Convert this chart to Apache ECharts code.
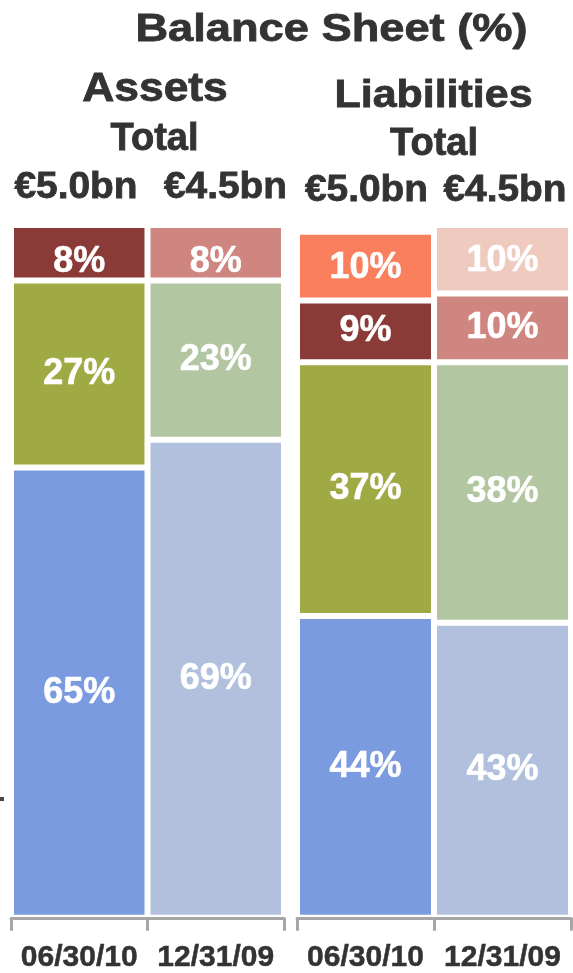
<!DOCTYPE html>
<html>
<head>
<meta charset="utf-8">
<title>Balance Sheet (%)</title>
<script src="https://cdn.jsdelivr.net/npm/echarts@6/dist/echarts.min.js"></script>
<style>
  html, body { margin: 0; padding: 0; background: #ffffff; }
  #chart { width: 573px; height: 973px; }
</style>
</head>
<body>
<div id="chart"></div>
<script>
// Reporting dates (one stacked column each)
const categories = ['06/30/10', '12/31/09'];
// Balance sheet totals per date
const totals = ['€5.0bn', '€4.5bn'];

// Assets composition (%), bottom to top
const assetsBottom = [65, 69];
const assetsMiddle = [27, 23];
const assetsTop = [8, 8];

// Liabilities composition (%), bottom to top
const liabBottom = [44, 43];
const liabMiddle = [37, 38];
const liabUpper = [9, 10];
const liabTop = [10, 10];

const FONT = '"Liberation Sans", Arial, Helvetica, sans-serif';
const INK = '#333333';

// Per-date colours: current date saturated, prior date pale
const palette = {
  bottom: ['#7b9be1', '#b1c0dc'],
  middle: ['#a0aa44', '#b2c6a2'],
  upper: ['#8a3a37', '#cf8680'],
  top: ['#f97f5d', '#efcbbf']
};

function items(values, colors) {
  return values.map((v, i) => ({ value: v, itemStyle: { color: colors[i] } }));
}

function barSeries(name, xi, values, colors, labelOffset) {
  return {
    name: name,
    type: 'bar',
    xAxisIndex: xi,
    yAxisIndex: xi,
    stack: 'g' + xi,
    barCategoryGap: '0%',
    barGap: '0%',
    data: items(values, colors),
    itemStyle: { borderColor: '#ffffff', borderWidth: 3 },
    label: {
      show: true,
      position: 'inside',
      formatter: '{c}%',
      color: '#ffffff',
      fontFamily: FONT,
      fontWeight: 'bold',
      fontSize: 36,
      textBorderColor: '#ffffff',
      textBorderWidth: 0.6,
      offset: labelOffset || [0, 0]
    },
    emphasis: { disabled: true }
  };
}

function categoryAxis(gi) {
  return {
    type: 'category',
    gridIndex: gi,
    data: categories,
    z: 5,
    axisLine: { show: true, lineStyle: { color: '#a6a6a6', width: 3 } },
    axisTick: { show: true, interval: 0, length: 13, lineStyle: { color: '#a6a6a6', width: 3 } },
    axisLabel: {
      interval: 0,
      margin: 25,
      color: INK,
      fontFamily: FONT,
      fontWeight: 'bold',
      fontSize: 30,
      textBorderColor: INK,
      textBorderWidth: 0.5
    },
    splitLine: { show: false }
  };
}

function heading(text, x, y, size, sx) {
  return {
    type: 'text',
    x: x,
    y: y,
    scaleX: sx,
    style: {
      text: text,
      fontFamily: FONT,
      fontWeight: 'bold',
      fontSize: size,
      fill: INK,
      stroke: INK,
      lineWidth: 0.8,
      align: 'center',
      verticalAlign: 'middle'
    }
  };
}

const chart = echarts.init(document.getElementById('chart'), null, { renderer: 'canvas' });

chart.setOption({
  animation: false,
  backgroundColor: '#ffffff',
  grid: [
    { left: 11, width: 273, top: 225, height: 696 },
    { left: 297, width: 274, top: 225, height: 696 }
  ],
  xAxis: [categoryAxis(0), categoryAxis(1)],
  yAxis: [
    { type: 'value', gridIndex: 0, min: 0, max: 100, show: false },
    { type: 'value', gridIndex: 1, min: 0, max: 101, show: false }
  ],
  series: [
    barSeries('Assets bottom', 0, assetsBottom, palette.bottom),
    barSeries('Assets middle', 0, assetsMiddle, palette.middle),
    barSeries('Assets top', 0, assetsTop, palette.upper, [0, 9]),
    barSeries('Liabilities bottom', 1, liabBottom, palette.bottom),
    barSeries('Liabilities middle', 1, liabMiddle, palette.middle),
    barSeries('Liabilities upper', 1, liabUpper, palette.upper),
    barSeries('Liabilities top', 1, liabTop, palette.top, [0, 2])
  ],
  graphic: [
    heading('Balance Sheet (%)', 331.5, 30, 39, 1.16),
    heading('Assets', 155, 90, 40, 1.11),
    heading('Total', 154.5, 139.5, 38, 1.0),
    heading(totals[0], 76, 188, 37, 1.05),
    heading(totals[1], 225.5, 188, 37, 1.05),
    heading('Liabilities', 433.5, 97, 38, 1.13),
    heading('Total', 434, 144.5, 38, 1.0),
    heading(totals[0], 366.5, 191, 37, 1.05),
    heading(totals[1], 505, 191, 37, 1.05),
    { type: 'rect', shape: { x: 0, y: 797, width: 4, height: 4 }, style: { fill: '#444444' } }
  ]
});
</script>
</body>
</html>
